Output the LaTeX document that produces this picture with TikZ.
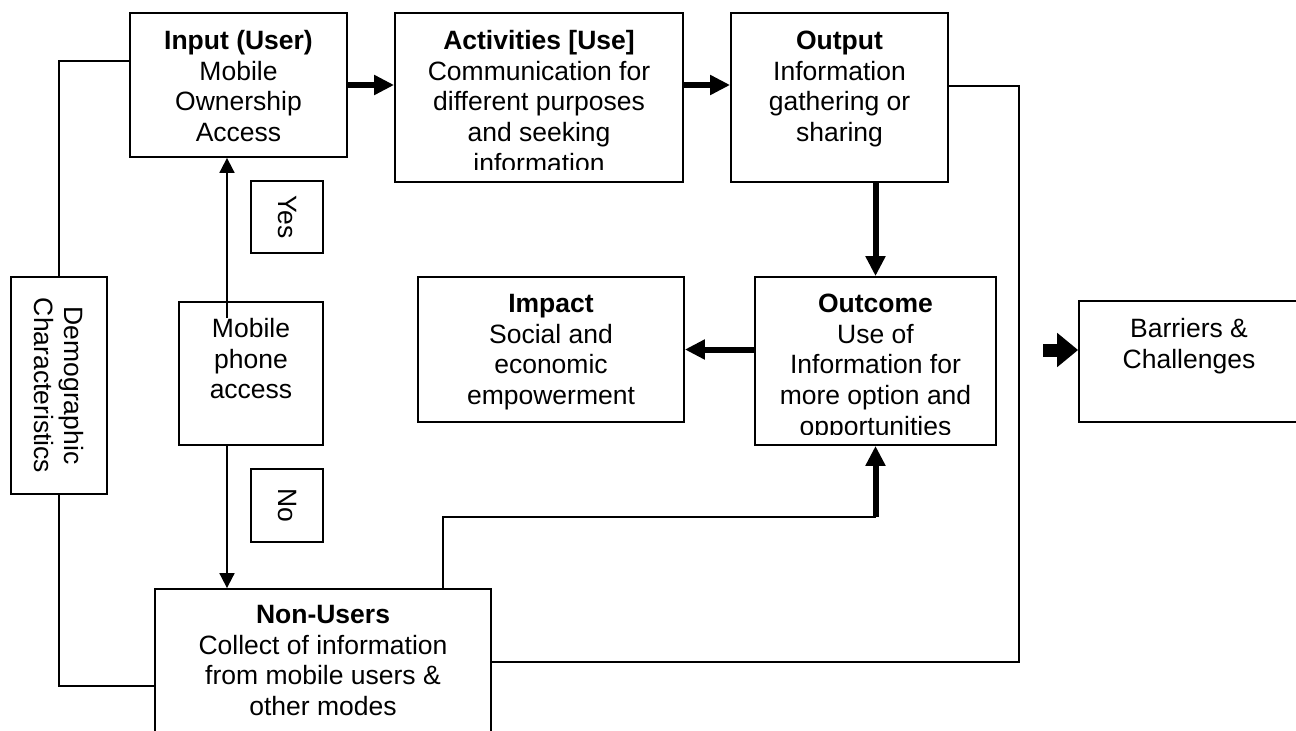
\documentclass[tikz,border=0pt]{standalone}
\usepackage{fontspec}
\setmainfont{Liberation Sans}
\usetikzlibrary{arrows.meta}
\tikzset{
  box/.style={draw, line width=1.8pt, inner sep=0pt, rectangle},
  txt/.style={font=\fontsize{26.5}{30.6}\selectfont, align=center, inner sep=0pt, anchor=north},
  rtxt/.style={font=\fontsize{26.5}{30.6}\selectfont, align=center, inner sep=0pt, rotate=-90},
  thinline/.style={line width=1.8pt},
  thinarrow/.style={line width=1.8pt, -{Triangle[length=15pt,width=15pt]}},
  thickarrow/.style={line width=6pt, -{Triangle[length=20pt,width=19pt]}},
  blockarrow/.style={line width=13pt, -{Triangle[length=21pt,width=33pt]}}
}
\begin{document}
\begin{tikzpicture}[x=1pt,y=-1pt]
\useasboundingbox (0,0) rectangle (1296,731);
\clip (0,0) rectangle (1296,731);
\fill[white] (0,0) rectangle (1296,731);

% boxes
\node[box, minimum width=217pt, minimum height=144pt] (input) at (238.5,85) {};
\node[box, minimum width=288pt, minimum height=169pt] (activities) at (539,97.5) {};
\node[box, minimum width=217pt, minimum height=169pt] (output) at (839.5,97.5) {};
\node[box, minimum width=266pt, minimum height=145pt] (impact) at (551,349.5) {};
\node[box, minimum width=241pt, minimum height=168pt] (outcome) at (875.5,361) {};
\node[box, minimum width=220pt, minimum height=121pt] (barriers) at (1189,361.5) {};
\node[box, minimum width=96pt, minimum height=217pt] (demo) at (59,385.5) {};
\node[box, minimum width=144pt, minimum height=143pt] (mobile) at (251,373.5) {};
\node[box, minimum width=72pt, minimum height=72pt] (yes) at (287,217) {};
\node[box, minimum width=72pt, minimum height=73pt] (no) at (287,505.5) {};
\node[box, minimum width=336pt, minimum height=171pt] (nonusers) at (323,674.5) {};

% texts
\node[txt] (inputT) at ([yshift=-16pt]input.north) {\strut\textbf{Input (User)}\\Mobile\\Ownership\\Access};
\begin{scope}
\clip (activities.north west) rectangle (activities.east |- 0,169);
\node[txt] (activitiesT) at ([yshift=-16pt]activities.north) {\strut\textbf{Activities [Use]}\\Communication for\\different purposes\\and seeking\\information};
\end{scope}
\node[txt] (outputT) at ([yshift=-16pt]output.north) {\strut\textbf{Output}\\Information\\gathering or\\sharing};
\node[txt] (impactT) at ([yshift=-15pt]impact.north) {\strut\textbf{Impact}\\Social and\\economic\\empowerment};
\begin{scope}
\clip (outcome.north west) rectangle (outcome.east |- 0,434.5);
\node[txt] (outcomeT) at ([yshift=-15pt]outcome.north) {\strut\textbf{Outcome}\\Use of\\Information for\\more option and\\opportunities};
\end{scope}
\node[txt] (barriersT) at ([yshift=-16pt]barriers.north) {\strut Barriers \&\\Challenges};
\node[txt] (mobileT) at ([yshift=-15pt]mobile.north) {\strut Mobile\\phone\\access};
\node[txt] (nonusersT) at ([yshift=-14pt]nonusers.north) {\strut\textbf{Non-Users}\\Collect of information\\from mobile users \&\\other modes};
\node[rtxt] (demoT) at (demo.center) {Demographic\\Characteristics};
\node[rtxt] (yesT) at (yes.center) {Yes};
\node[rtxt] (noT) at (no.center) {No};

% helper coordinates
\coordinate (yesStart) at (227,318);
\coordinate (d1) at (59,61);
\coordinate (d2) at (59,686);
\coordinate (c1) at (443,517);
\coordinate (oR) at (1019,86);
\coordinate (oR1) at (1019,662);
\coordinate (bA) at (1043,350);

% connectors
\draw[thickarrow] (input.east) -- (activities.west |- input.east);
\draw[thickarrow] (activities.east |- input.east) -- (output.west |- input.east);
\draw[thickarrow] (output.south -| outcome.north) -- (outcome.north);
\draw[thickarrow] (outcome.west |- impact.east) -- (impact.east);
\draw[thinline] (nonusers.north -| c1) -- (c1) -- (c1 -| outcome.south);
\draw[thickarrow] (c1 -| outcome.south) -- (outcome.south);
\draw[thinline] (output.east |- oR) -- (oR) -- (oR1) -- (nonusers.east |- oR1);
\draw[thinarrow] (yesStart) -- (yesStart |- input.south);
\draw[thinarrow] (mobile.south -| yesStart) -- (nonusers.north -| yesStart);
\draw[thinline] (demo.north) -- (d1) -- (d1 -| input.west);
\draw[thinline] (demo.south) -- (d2) -- (d2 -| nonusers.west);
\draw[blockarrow] (bA) -- (barriers.west |- bA);
\end{tikzpicture}
\end{document}
